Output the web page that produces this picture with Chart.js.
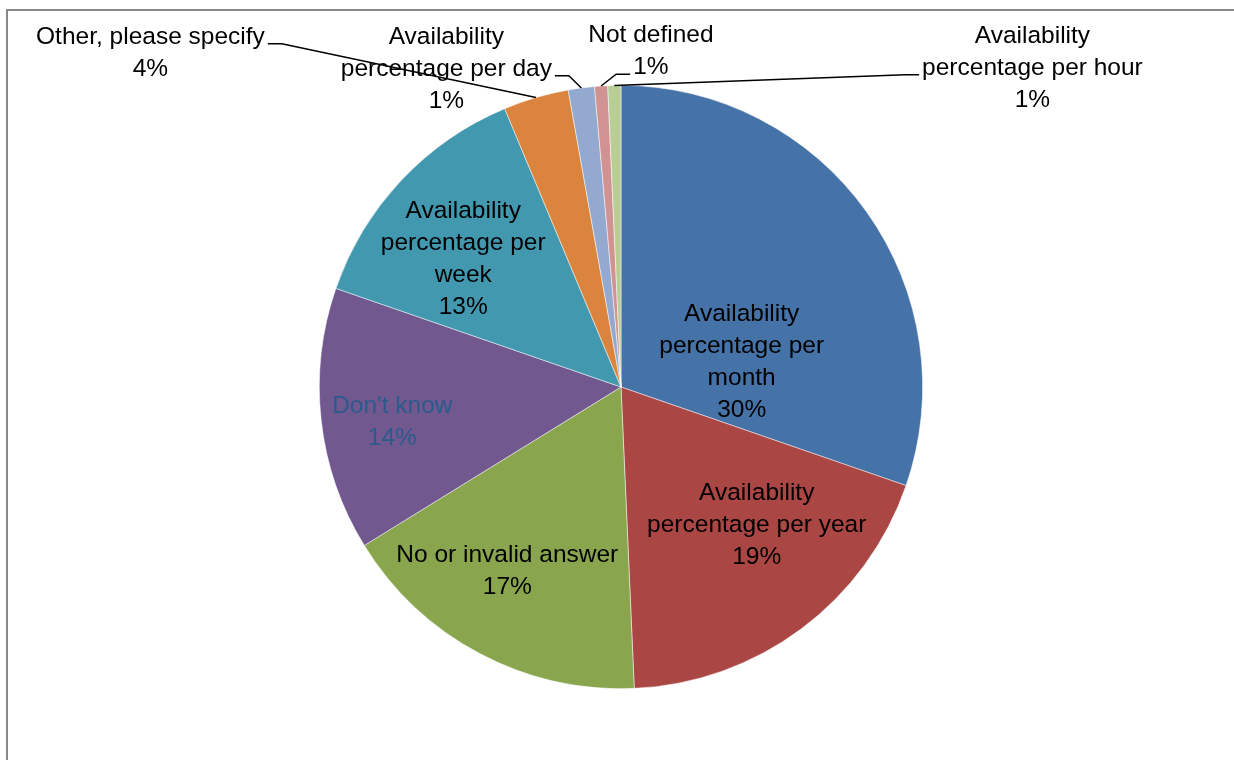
<!DOCTYPE html>
<html>
<head>
<meta charset="utf-8">
<title>Availability measurement</title>
<script src="https://cdn.jsdelivr.net/npm/chart.js@4.4.1/dist/chart.umd.min.js"></script>
<style>
    html, body { margin: 0; padding: 0; background: #fff; }
    #wrap { width: 1234px; height: 760px; }
</style>
</head>
<body>
<div id="wrap"><canvas id="pieChart" width="1234" height="760"></canvas></div>
<script>
// slices, clockwise from 12 o'clock
const categories = [
    'Availability percentage per month',
    'Availability percentage per year',
    'No or invalid answer',
    "Don't know",
    'Availability percentage per week',
    'Other, please specify',
    'Availability percentage per day',
    'Not defined',
    'Availability percentage per hour'
];
const values = [30.3, 19.0, 16.9, 14.1, 13.4, 3.5, 1.4, 0.7, 0.7];
const colors = ['#4572A7', '#AA4643', '#89A54E', '#71588F', '#4198AF', '#DB843D', '#93A9CF', '#D19392', '#B9CD96'];

// how each label is wrapped in the picture
const labelLines = [
    ['Availability', 'percentage per', 'month'],
    ['Availability', 'percentage per year'],
    ['No or invalid answer'],
    ["Don't know"],
    ['Availability', 'percentage per', 'week'],
    ['Other, please specify'],
    ['Availability', 'percentage per day'],
    ['Not defined'],
    ['Availability', 'percentage per hour']
];

// label block centres, as a fraction of the radius from the pie centre
const labelPos = [
    [0.400, -0.083], [0.450, 0.457], [-0.377, 0.612], [-0.758, 0.116], [-0.523, -0.424],
    [-1.560, -1.108], [-0.579, -1.055], [0.099, -1.113], [1.364, -1.058]
];
// leader lines for the outside labels: which line, which side
const leaders = [null, null, null, null, null,
    { line: 0, side: 'right' }, { line: 1, side: 'right' }, { line: 1, side: 'left' }, { line: 1, side: 'left' }];

const FONT = '24.5px "Liberation Sans", Arial, sans-serif';
const LINE_H = 32;

const total = values.reduce((a, b) => a + b, 0);

const framePlugin = {
    id: 'frame',
    beforeDraw(chart) {
        const c = chart.ctx;
        c.save();
        c.fillStyle = '#fff';
        c.fillRect(0, 0, chart.width, chart.height);
        c.strokeStyle = '#888';
        c.lineWidth = 2;
        c.beginPath();
        c.moveTo(7, chart.height);
        c.lineTo(7, 10);
        c.lineTo(chart.width, 10);
        c.stroke();
        c.restore();
    }
};

const labelPlugin = {
    id: 'sliceLabels',
    afterDatasetsDraw(chart) {
        const c = chart.ctx;
        const arcs = chart.getDatasetMeta(0).data;
        c.save();
        c.font = FONT;
        c.textAlign = 'center';
        c.textBaseline = 'middle';
        arcs.forEach((arc, i) => {
            const p = arc.getProps(['x', 'y', 'startAngle', 'endAngle', 'outerRadius'], true);
            const r = p.outerRadius;
            const lx = p.x + labelPos[i][0] * r;
            const ly = p.y + labelPos[i][1] * r;
            const lines = labelLines[i].concat([Math.round(values[i] / total * 100) + '%']);
            const top = ly - (lines.length - 1) / 2 * LINE_H;

            c.fillStyle = i === 3 ? '#2C5A8C' : '#000';
            lines.forEach((t, k) => c.fillText(t, lx, top + k * LINE_H));

            const ld = leaders[i];
            if (ld) {
                const w = c.measureText(lines[ld.line]).width;
                const y0 = top + ld.line * LINE_H + 7;
                const x0 = ld.side === 'right' ? lx + w / 2 + 3 : lx - w / 2 - 3;
                const x1 = ld.side === 'right' ? x0 + 14 : x0 - 14;
                const mid = (p.startAngle + p.endAngle) / 2;
                c.strokeStyle = '#000';
                c.lineWidth = 1.5;
                c.beginPath();
                c.moveTo(x0, y0);
                c.lineTo(x1, y0);
                c.lineTo(p.x + Math.cos(mid) * r, p.y + Math.sin(mid) * r);
                c.stroke();
            }
        });
        c.restore();
    }
};

const ctx = document.getElementById('pieChart').getContext('2d');
const pieChart = new Chart(ctx, {
    type: 'pie',
    data: {
        labels: categories,
        datasets: [{
            data: values,
            backgroundColor: colors,
            borderColor: 'rgba(255,255,255,0.7)',
            borderWidth: 0.7
        }]
    },
    options: {
        responsive: false,
        animation: false,
        layout: { padding: { top: 85, bottom: 71, left: 319, right: 311 } },
        plugins: {
            legend: { display: false },
            tooltip: { enabled: false }
        }
    },
    plugins: [framePlugin, labelPlugin]
});
</script>
</body>
</html>
